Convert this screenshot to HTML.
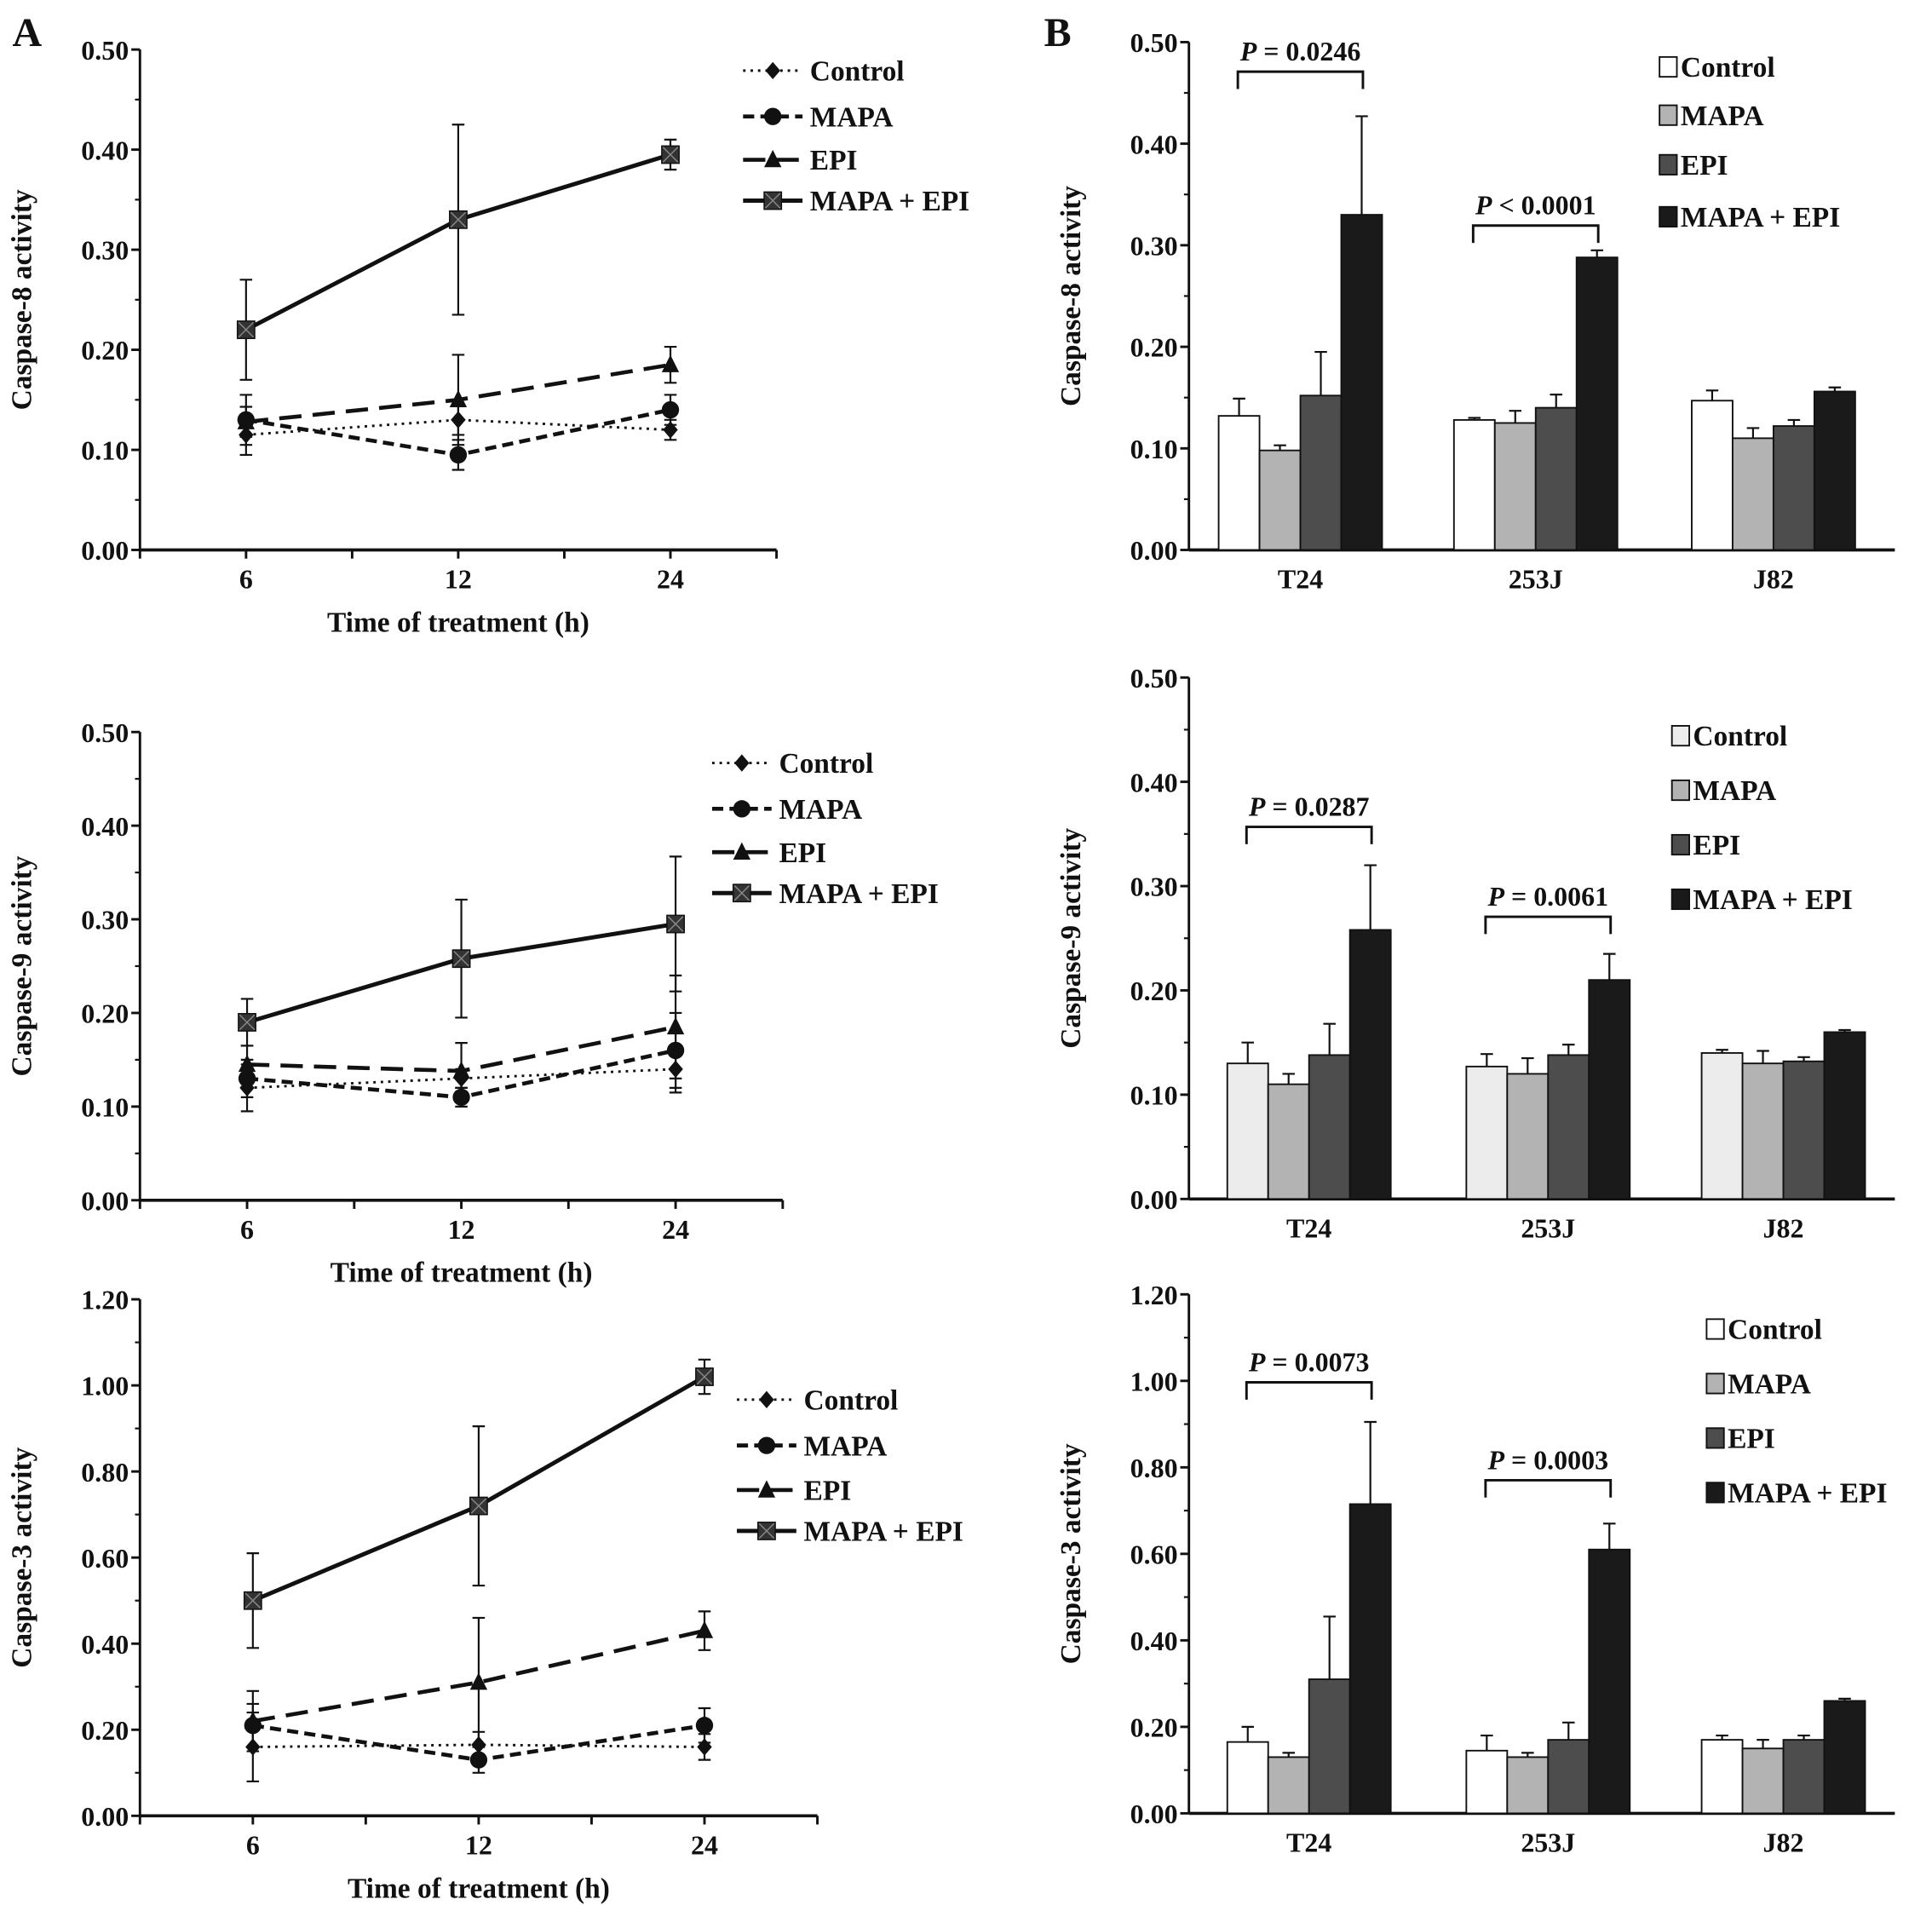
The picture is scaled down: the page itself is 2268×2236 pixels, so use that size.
<!DOCTYPE html>
<html><head><meta charset="utf-8">
<style>
html,body{margin:0;padding:0;background:#fff;}
svg{display:block;}
text{font-family:"Liberation Serif",serif;font-weight:bold;fill:#111;}
</style></head>
<body>
<svg id="fig" width="2268" height="2236" viewBox="0 0 1560 1538" xmlns="http://www.w3.org/2000/svg">
<text x="10" y="37" font-size="33">A</text>
<text x="843" y="37" font-size="33">B</text>
</svg>
<script>
// ---------- DATA ----------
const timeCats = ["6","12","24"];
const seriesNames = ["Control","MAPA","EPI","MAPA + EPI"];
const c8Line = [[0.115,0.13,0.12],[0.13,0.095,0.14],[0.128,0.15,0.185],[0.22,0.33,0.395]];
const c8LineErr = [[0.02,0.015,0.01],[0.025,0.015,0.015],[0.015,0.045,0.018],[0.05,0.095,0.015]];
const c9Line = [[0.12,0.13,0.14],[0.13,0.11,0.16],[0.145,0.138,0.185],[0.19,0.258,0.295]];
const c9LineErr = [[0.025,0.01,0.025],[0.02,0.01,0.04],[0.02,0.03,0.055],[0.025,0.063,0.072]];
const c3Line = [[0.16,0.165,0.16],[0.21,0.13,0.21],[0.22,0.31,0.43],[0.5,0.72,1.02]];
const c3LineErr = [[0.08,0.03,0.03],[0.05,0.03,0.04],[0.07,0.15,0.045],[0.11,0.185,0.04]];
const cellCats = ["T24","253J","J82"];
const c8Bar = [[0.132,0.098,0.152,0.33],[0.128,0.125,0.14,0.288],[0.147,0.11,0.122,0.156]];
const c8BarErr = [[0.017,0.005,0.043,0.097],[0.002,0.012,0.013,0.007],[0.01,0.01,0.006,0.004]];
const c9Bar = [[0.13,0.11,0.138,0.258],[0.127,0.12,0.138,0.21],[0.14,0.13,0.132,0.16]];
const c9BarErr = [[0.02,0.01,0.03,0.062],[0.012,0.015,0.01,0.025],[0.003,0.012,0.004,0.002]];
const c3Bar = [[0.165,0.13,0.31,0.715],[0.145,0.13,0.17,0.61],[0.17,0.15,0.17,0.26]];
const c3BarErr = [[0.035,0.01,0.145,0.19],[0.035,0.01,0.04,0.06],[0.01,0.02,0.01,0.005]];
const pLabels8 = ["P = 0.0246","P < 0.0001"];
const pLabels9 = ["P = 0.0287","P = 0.0061"];
const pLabels3 = ["P = 0.0073","P = 0.0003"];
const ticks05 = [0,0.1,0.2,0.3,0.4,0.5];
const ticks12 = [0,0.2,0.4,0.6,0.8,1.0,1.2];

// ---------- HELPERS ----------
const svg = document.getElementById('fig');
const NS = "http://www.w3.org/2000/svg";
function el(tag, attrs, parent){
  const e = document.createElementNS(NS, tag);
  for (const k in attrs) e.setAttribute(k, attrs[k]);
  (parent||svg).appendChild(e);
  return e;
}
function txt(x,y,s,size,anchor,parent){
  const t = el('text',{x:x,y:y,'font-size':size,'text-anchor':anchor||'start'},parent);
  t.textContent = s;
  return t;
}

function axes(g, cfg, yScale){
  const ax = el('line',{x1:cfg.x0,y1:cfg.yTop,x2:cfg.x0,y2:cfg.yBot,stroke:'#111','stroke-width':2},g);
  
  
  const ticks = cfg.ticks;
  const step = ticks[1]-ticks[0];
  ticks.forEach((v,i)=>{
    const y = yScale(v);
    el('line',{x1:cfg.x0-7,y1:y,x2:cfg.x0,y2:y,stroke:'#111','stroke-width':2},g);
    const t = txt(cfg.x0-9,y+8,v.toFixed(2),22,'end',g);
    
    
    if(i<ticks.length-1){
      const ym = yScale(v+step/2);
      el('line',{x1:cfg.x0-4,y1:ym,x2:cfg.x0,y2:ym,stroke:'#111','stroke-width':1.5},g);
    }
  });
  const xa = el('line',{x1:cfg.x0,y1:cfg.yBot,x2:cfg.x1,y2:cfg.yBot,stroke:'#111','stroke-width':2.5},g);
  
  
  const yt = txt(0,0,cfg.ytitle,23,'middle',g);
  yt.setAttribute('transform','translate('+(cfg.x0-88)+','+((cfg.yTop+cfg.yBot)/2)+') rotate(-90)');
  
  
}

const lineStyles = [
  {dash:'2,4',w:2},
  {dash:'9,5',w:3.2},
  {dash:'18,9',w:3.2},
  {dash:'',w:3.4}
];
function marker(g,type,x,y){
  let m;
  if(type===0) m = el('polygon',{points:(x)+','+(y-7)+' '+(x+6)+','+y+' '+x+','+(y+7)+' '+(x-6)+','+y,fill:'#111'},g);
  else if(type===1) m = el('circle',{cx:x,cy:y,r:7,fill:'#111'},g);
  else if(type===2) m = el('polygon',{points:x+','+(y-8)+' '+(x+7)+','+(y+6)+' '+(x-7)+','+(y+6),fill:'#111'},g);
  else {
    m = el('rect',{x:x-7,y:y-7,width:14,height:14,fill:'#333',stroke:'#111','stroke-width':1},g);
    el('path',{d:'M'+(x-6)+' '+(y-6)+'L'+(x+6)+' '+(y+6)+'M'+(x+6)+' '+(y-6)+'L'+(x-6)+' '+(y+6),stroke:'#888','stroke-width':1},g);
  }
  
  
}

function linePanel(cfg, vals, errs){
  const g = el('g',{});
  
  
  const ymax = cfg.ticks[cfg.ticks.length-1];
  const yScale = v => cfg.yBot - v/ymax*(cfg.yBot-cfg.yTop);
  const band = (cfg.x1-cfg.x0)/timeCats.length;
  const xScale = i => cfg.x0 + band*(i+0.5);
  axes(g,cfg,yScale);
  for(let i=0;i<=timeCats.length;i++){
    el('line',{x1:cfg.x0+band*i,y1:cfg.yBot,x2:cfg.x0+band*i,y2:cfg.yBot+7,stroke:'#111','stroke-width':2},g);
  }
  timeCats.forEach((c,i)=>{
    el('line',{x1:xScale(i),y1:cfg.yBot,x2:xScale(i),y2:cfg.yBot+7,stroke:'#111','stroke-width':2},g);
    const t = txt(xScale(i),cfg.yBot+31,c,22,'middle',g);
    
    
  });
  const xt = txt((cfg.x0+cfg.x1)/2,cfg.yBot+66,'Time of treatment (h)',23,'middle',g);
  
  
  vals.forEach((s,k)=>{
    s.forEach((v,i)=>{
      const x = xScale(i), e = errs[k][i];
      el('path',{d:'M'+x+' '+yScale(v-e)+'V'+yScale(v+e)+'M'+(x-5)+' '+yScale(v+e)+'H'+(x+5)+'M'+(x-5)+' '+yScale(v-e)+'H'+(x+5),stroke:'#111','stroke-width':1.5,fill:'none'},g);
    });
    const pts = s.map((v,i)=>xScale(i)+','+yScale(v)).join(' ');
    const pl = el('polyline',{points:pts,fill:'none',stroke:'#111','stroke-width':lineStyles[k].w,'stroke-dasharray':lineStyles[k].dash},g);
    
    
    s.forEach((v,i)=>marker(g,k,xScale(i),yScale(v)));
  });
  cfg.legY.forEach((y,k)=>{
    const lg = el('g',{},g);
    
    
    el('line',{x1:cfg.legX,y1:y,x2:cfg.legX+48,y2:y,stroke:'#111','stroke-width':lineStyles[k].w,'stroke-dasharray':lineStyles[k].dash},lg);
    marker(lg,k,cfg.legX+24,y);
    txt(cfg.legX+54,y+8,seriesNames[k],23,'start',lg);
  });
}

const barFills = ['#fff','#b3b3b3','#4d4d4d','#1a1a1a'];
function barPanel(cfg, vals, errs, pLabs){
  const g = el('g',{});
  
  
  const ymax = cfg.ticks[cfg.ticks.length-1];
  const yScale = v => cfg.yBot - v/ymax*(cfg.yBot-cfg.yTop);
  const xScale = i => cfg.gx[i];
  const bw = 33;
  axes(g,cfg,yScale);
  cellCats.forEach((c,i)=>{
    const t = txt(xScale(i),cfg.yBot+31,c,22,'middle',g);
    
    
  });
  vals.forEach((grp,i)=>{
    grp.forEach((v,k)=>{
      const x = xScale(i) - 2*bw + k*bw;
      const e = errs[i][k];
      const cx = x+bw/2;
      el('path',{d:'M'+cx+' '+yScale(v)+'V'+yScale(v+e)+'M'+(cx-5)+' '+yScale(v+e)+'H'+(cx+5),stroke:'#111','stroke-width':1.5,fill:'none'},g);
      const r = el('rect',{x:x,y:yScale(v),width:bw,height:yScale(0)-yScale(v),fill:(k===0?cfg.ctrlFill:barFills[k]),stroke:'#111','stroke-width':1.3},g);
      
      
    });
  });
  pLabs.forEach((p,i)=>{
    const x1 = xScale(i) - 2*bw + bw/2 - 1, x2 = xScale(i) + 2*bw - bw/2 + 1;
    const hi = Math.max(vals[i][0]+errs[i][0], vals[i][3]+errs[i][3]);
    const y = yScale(hi) - cfg.brGap[i];
    const br = el('path',{d:'M'+x1+' '+(y+14)+'V'+y+'H'+x2+'V'+(y+14),stroke:'#111','stroke-width':2,fill:'none'},g);
    
    
    const t = el('text',{x:(x1+x2)/2,y:y-9,'font-size':22,'text-anchor':'middle'},g);
    
    
    const ts = el('tspan',{'font-style':'italic'},t); ts.textContent = p.slice(0,1);
    const ts2 = el('tspan',{},t); ts2.textContent = p.slice(1);
  });
  cfg.legY.forEach((y,k)=>{
    const lg = el('g',{},g);
    
    
    el('rect',{x:cfg.legX,y:y-8,width:14,height:16,fill:(k===0?cfg.ctrlFill:barFills[k]),stroke:'#111','stroke-width':1.3},lg);
    txt(cfg.legX+17,y+8,seriesNames[k],23,'start',lg);
  });
}

linePanel({name:'caspase8-line-chart',x0:113,x1:627,yTop:40,yBot:444,ticks:ticks05,ytitle:'Caspase-8 activity',legX:600,legY:[57,94,129,162]},c8Line,c8LineErr);
linePanel({name:'caspase9-line-chart',x0:113,x1:632,yTop:591,yBot:969,ticks:ticks05,ytitle:'Caspase-9 activity',legX:575,legY:[616,653,688,721]},c9Line,c9LineErr);
linePanel({name:'caspase3-line-chart',x0:113,x1:660,yTop:1049,yBot:1466,ticks:ticks12,ytitle:'Caspase-3 activity',legX:595,legY:[1130,1167,1203,1236]},c3Line,c3LineErr);

barPanel({name:'caspase8-bar-chart',x0:960,x1:1530,yTop:34,yBot:444,ticks:ticks05,ytitle:'Caspase-8 activity',gx:[1050,1240,1432],ctrlFill:'#fff',legX:1340,legY:[54,93,133,175],brGap:[36,20]},c8Bar,c8BarErr,pLabels8);
barPanel({name:'caspase9-bar-chart',x0:960,x1:1530,yTop:547,yBot:968,ticks:ticks05,ytitle:'Caspase-9 activity',gx:[1057,1250,1440],ctrlFill:'#ececec',legX:1350,legY:[594,638,682,726],brGap:[31,30]},c9Bar,c9BarErr,pLabels9);
barPanel({name:'caspase3-bar-chart',x0:960,x1:1530,yTop:1045,yBot:1464,ticks:ticks12,ytitle:'Caspase-3 activity',gx:[1057,1250,1440],ctrlFill:'#fff',legX:1378,legY:[1073,1117,1161,1205],brGap:[32,35]},c3Bar,c3BarErr,pLabels3);
</script>
</body></html>
